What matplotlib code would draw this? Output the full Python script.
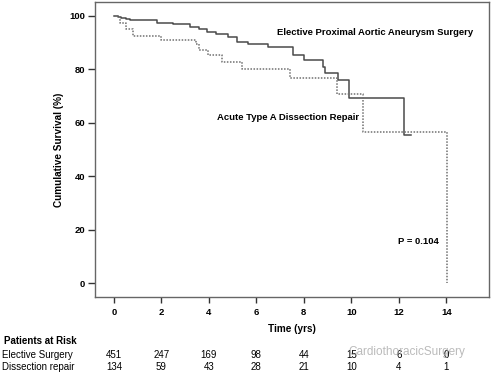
import matplotlib
matplotlib.use("Agg")
import matplotlib.pyplot as plt
from matplotlib.transforms import blended_transform_factory

plt.rcParams['font.family'] = ['Liberation Sans', 'DejaVu Sans']

# Kaplan-Meier step points (years, % survival)
elective_t = [0, 0.15, 0.3, 0.5, 0.67, 1.8, 2.5, 3.2, 3.6, 3.9, 4.3, 4.8, 5.2,
              5.65, 6.5, 7.55, 8.0, 8.8, 8.9, 9.45, 9.9, 12.2, 12.5]
elective_v = [100, 99.6, 99.1, 98.8, 98.4, 97.5, 96.8, 95.9, 95.0, 94.0, 93.2,
              92.2, 90.3, 89.3, 88.5, 85.4, 83.5, 81.0, 78.8, 76.0, 69.2, 55.4, 55.4]

dissection_t = [0, 0.25, 0.5, 0.8, 2.0, 3.45, 3.6, 3.95, 4.55, 5.4, 7.4, 9.4, 10.5, 14.05]
dissection_v = [100, 97.5, 95, 92.5, 90.9, 89.3, 87.3, 85.2, 82.9, 80.1, 76.7, 70.8, 56.7, 0]

risk_times = [0, 2, 4, 6, 8, 10, 12, 14]
risk_elective = ['451', '247', '169', '98', '44', '15', '6', '0']
risk_dissection = ['134', '59', '43', '28', '21', '10', '4', '1']

fig = plt.figure(figsize=(4.91, 3.74), dpi=100)
ax = fig.add_axes([95 / 491, 1 - 297 / 374, (489 - 95) / 491, (297 - 2) / 374])

ax.step(elective_t, elective_v, where='post', color='#4a4a4a', lw=1.1)
ax.step(dissection_t, dissection_v, where='post', color='#707070', lw=1.1,
        linestyle=(0, (1, 1)))

ax.set_xlim(-0.8, 15.8)
ax.set_ylim(-5.2, 105.2)
ax.set_xticks(range(0, 15, 2))
ax.set_yticks(range(0, 101, 20))
ax.tick_params(direction='out', width=1, color='#333333', labelsize=6.8, pad=2)
ax.tick_params(axis='y', length=5)
ax.tick_params(axis='x', length=4, pad=4)
for lab in ax.get_xticklabels() + ax.get_yticklabels():
    lab.set_fontweight('bold')
for s in ax.spines.values():
    s.set_color('#666666')
    s.set_linewidth(1)

ax.set_ylabel('Cumulative Survival (%)', fontsize=7.2, fontweight='bold', labelpad=4)
ax.set_xlabel('Time (yrs)', fontsize=7.2, fontweight='bold', labelpad=5)

ax.text(6.85, 93.8, 'Elective Proximal Aortic Aneurysm Surgery', fontsize=6.8,
        fontweight='bold', va='center')
ax.text(4.35, 62.0, 'Acute Type A Dissection Repair', fontsize=6.8,
        fontweight='bold', va='center')
ax.text(11.95, 15.6, 'P = 0.104', fontsize=6.8, fontweight='bold', va='center')

tr = blended_transform_factory(ax.transData, fig.transFigure)
fig.text(4 / 491, 1 - 341 / 374, 'Patients at Risk', fontsize=7, fontweight='bold', va='center')
fig.text(2 / 491, 1 - 355 / 374, 'Elective Surgery', fontsize=7, va='center')
fig.text(2 / 491, 1 - 367 / 374, 'Dissection repair', fontsize=7, va='center')
for t, a, b in zip(risk_times, risk_elective, risk_dissection):
    ax.text(t, 1 - 355 / 374, a, transform=tr, fontsize=7, ha='center', va='center')
    ax.text(t, 1 - 367 / 374, b, transform=tr, fontsize=7, ha='center', va='center')

# watermark, as in the source image
fig.text(348 / 491, 1 - 352 / 374, 'CardiothoracicSurgery', fontsize=8.5,
         color='#aaaaaa', alpha=0.8, va='center')

fig.savefig('out.png', dpi=100)
